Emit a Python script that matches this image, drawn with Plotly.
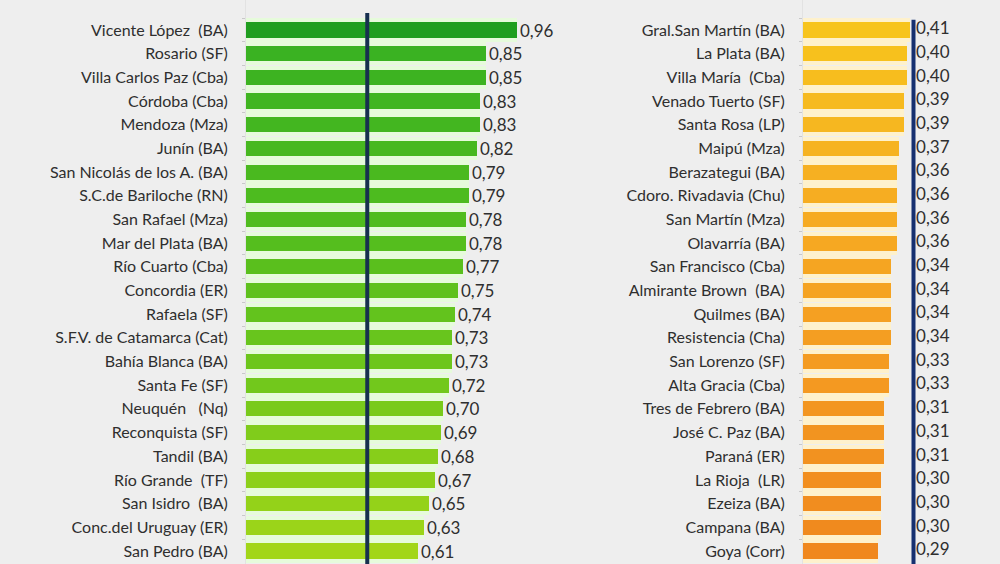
import numpy as np
import plotly.graph_objects as go

# ---------------- data ----------------
left_cities = [
    "Vicente López  (BA)", "Rosario (SF)", "Villa Carlos Paz (Cba)", "Córdoba (Cba)",
    "Mendoza (Mza)", "Junín (BA)", "San Nicolás de los A. (BA)", "S.C.de Bariloche (RN)",
    "San Rafael (Mza)", "Mar del Plata (BA)", "Río Cuarto (Cba)", "Concordia (ER)",
    "Rafaela (SF)", "S.F.V. de Catamarca (Cat)", "Bahía Blanca (BA)", "Santa Fe (SF)",
    "Neuquén   (Nq)", "Reconquista (SF)", "Tandil (BA)", "Río Grande  (TF)",
    "San Isidro  (BA)", "Conc.del Uruguay (ER)", "San Pedro (BA)",
]
left_values = [0.96, 0.85, 0.85, 0.83, 0.83, 0.82, 0.79, 0.79, 0.78, 0.78, 0.77, 0.75,
               0.74, 0.73, 0.73, 0.72, 0.70, 0.69, 0.68, 0.67, 0.65, 0.63, 0.61]

right_cities = [
    "Gral.San Martín (BA)", "La Plata (BA)", "Villa María  (Cba)", "Venado Tuerto (SF)",
    "Santa Rosa (LP)", "Maipú (Mza)", "Berazategui (BA)", "Cdoro. Rivadavia (Chu)",
    "San Martín (Mza)", "Olavarría (BA)", "San Francisco (Cba)", "Almirante Brown  (BA)",
    "Quilmes (BA)", "Resistencia (Cha)", "San Lorenzo (SF)", "Alta Gracia (Cba)",
    "Tres de Febrero (BA)", "José C. Paz (BA)", "Paraná (ER)", "La Rioja  (LR)",
    "Ezeiza (BA)", "Campana (BA)", "Goya (Corr)",
]
right_values = [0.41, 0.40, 0.40, 0.39, 0.39, 0.37, 0.36, 0.36, 0.36, 0.36, 0.34, 0.34,
                0.34, 0.34, 0.33, 0.33, 0.31, 0.31, 0.31, 0.30, 0.30, 0.30, 0.29]

REF_LEFT = 0.43     # reference line, left panel
REF_RIGHT = 0.425   # reference line, right panel

# ---------------- style helpers ----------------
def gradient(stops, n):
    pos = np.array([s[0] for s in stops], dtype=float)
    cols = np.array([s[1] for s in stops], dtype=float)
    out = []
    for i in range(n):
        rgb = [np.interp(i, pos, cols[:, k]) for k in range(3)]
        out.append("rgb(%d,%d,%d)" % tuple(int(round(c)) for c in rgb))
    return out

n = len(left_values)
left_colors = gradient([(0, (31, 158, 31)), (1, (58, 178, 34)), (8, (80, 188, 30)),
                        (15, (114, 200, 28)), (22, (162, 214, 24))], n)
right_colors = gradient([(0, (247, 196, 28)), (6, (246, 176, 34)), (12, (245, 160, 34)),
                         (22, (240, 136, 30))], n)

fmt = lambda v: ("%.2f" % v).replace(".", ",")

FONT = "Lato"
TXT = "#2f2f2f"
BG = "#eeeeee"
LABEL_SIZE = 16
VALUE_SIZE = 17

fig = go.Figure()

# halo bars (soft glow behind each bar)
fig.add_trace(go.Bar(x=left_values, y=left_cities, orientation="h", width=0.98,
                     marker=dict(color="#e6fbdb", line_width=0), hoverinfo="skip",
                     xaxis="x", yaxis="y", showlegend=False))
fig.add_trace(go.Bar(x=left_values, y=left_cities, orientation="h", width=0.64,
                     marker=dict(color=left_colors, line_width=0),
                     text=[fmt(v) for v in left_values], textposition="outside",
                     constraintext="none",
                     textfont=dict(family=FONT, size=VALUE_SIZE, color=TXT), cliponaxis=False,
                     xaxis="x", yaxis="y", showlegend=False))

fig.add_trace(go.Bar(x=right_values, y=right_cities, orientation="h", width=0.98,
                     marker=dict(color="#fef1cc", line_width=0), hoverinfo="skip",
                     xaxis="x2", yaxis="y2", showlegend=False))
fig.add_trace(go.Bar(x=right_values, y=right_cities, orientation="h", width=0.64,
                     marker=dict(color=right_colors, line_width=0),
                     xaxis="x2", yaxis="y2", showlegend=False))
# right-panel value labels sit just right of the reference line
fig.add_trace(go.Scatter(x=[REF_RIGHT + 0.01] * n, y=right_cities, mode="text",
                         text=[fmt(v) for v in right_values], textposition="middle right",
                         textfont=dict(family=FONT, size=VALUE_SIZE, color=TXT),
                         xaxis="x2", yaxis="y2", showlegend=False, cliponaxis=False))

# reference lines
fig.add_shape(type="line", xref="x", yref="paper", x0=REF_LEFT, x1=REF_LEFT,
              y0=0, y1=0.977, line=dict(color="#17304f", width=4))
fig.add_shape(type="line", xref="x2", yref="paper", x0=REF_RIGHT, x1=REF_RIGHT,
              y0=0, y1=0.965, line=dict(color="#163070", width=4))

yrange = [22.55, -1.267]
yax = dict(type="category", range=yrange, showgrid=False, zeroline=False,
           ticks="outside", ticklen=3, tickcolor="#c8c8c8", tickson="boundaries",
           showline=True, linecolor="#e2e2e2", linewidth=1,
           ticklabelstandoff=14, automargin=False,
           tickfont=dict(family=FONT, size=LABEL_SIZE, color=TXT))

fig.update_layout(
    width=1000, height=564,
    margin=dict(l=0, r=0, t=0, b=0),
    paper_bgcolor=BG, plot_bgcolor=BG,
    barmode="overlay", bargap=0,
    xaxis=dict(domain=[0.246, 0.56], range=[0, 0.314 / 0.282], visible=False),
    yaxis=dict(anchor="x", domain=[0, 1], **yax),
    xaxis2=dict(domain=[0.803, 1.0], range=[0, 0.197 / 0.260], visible=False),
    yaxis2=dict(anchor="x2", domain=[0, 1], **yax),
)

fig.write_html("out.html")
